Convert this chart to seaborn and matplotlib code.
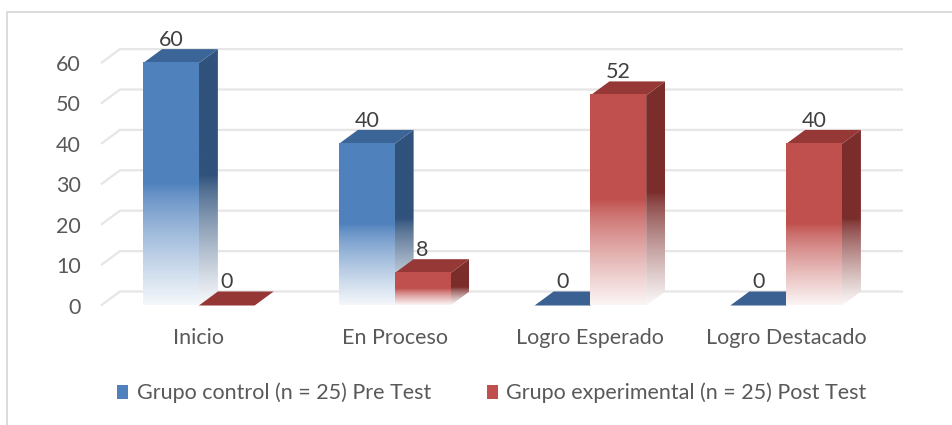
import numpy as np
import pandas as pd
import matplotlib
matplotlib.use("Agg")
import matplotlib.pyplot as plt
from matplotlib.patches import Polygon, Rectangle, Patch
from matplotlib.colors import to_rgb
import seaborn as sns

# ---------------- data ----------------
categories = ["Inicio", "En Proceso", "Logro Esperado", "Logro Destacado"]
series_names = ["Grupo control (n = 25) Pre Test", "Grupo experimental (n = 25) Post Test"]
control_values = [60, 40, 0, 0]
experimental_values = [0, 8, 52, 40]
y_ticks = [0, 10, 20, 30, 40, 50, 60]

df = pd.DataFrame({
    "cat": categories * 2,
    "val": control_values + experimental_values,
    "grp": [series_names[0]] * 4 + [series_names[1]] * 4,
})

# ---------------- style ----------------
sns.set_theme(style="white")
plt.rcParams["font.family"] = ["Lato", "DejaVu Sans"]
FS = 15.5
TXT = "#595959"

front_cols = ["#4F81BD", "#C0504D"]
side_cols = ["#30527C", "#7B2D2B"]
top_cols = ["#3C6597", "#953836"]
flat_cols = ["#3A6191", "#953735"]

W, H, DPI = 952, 425, 100
fig = plt.figure(figsize=(W / DPI, H / DPI), dpi=DPI)
fig.patch.set_facecolor("white")

ax_left, ax_right, ax_bottom_px = 101, 884, 305.5
px_per_unit = 4.04
ymax = 65
ax = fig.add_axes([ax_left / W, (H - ax_bottom_px) / H, (ax_right - ax_left) / W,
                   ymax * px_per_unit / H])

sns.barplot(data=df, x="cat", y="val", hue="grp", order=categories,
            hue_order=series_names, palette=front_cols, width=0.57,
            dodge=True, ax=ax, legend=False, saturation=1)

ax.set_xlim(-0.5, len(categories) - 0.5)
ax.set_ylim(0, ymax)
for s in ax.spines.values():
    s.set_visible(False)
ax.set_xlabel("")
ax.set_ylabel("")
ax.set_yticks(y_ticks)
ax.tick_params(axis="both", length=0, labelsize=FS, labelcolor=TXT)
ax.tick_params(axis="y", pad=14.5)
ax.tick_params(axis="x", pad=16)
ax.grid(False)
ax.set_facecolor("none")

fig.canvas.draw()
# depth offset in pixels -> data units
DX_PX, DY_PX = 19, 14
p0 = ax.transData.transform((0, 0))
p1 = ax.transData.transform((1, 1))
ddx = DX_PX / (p1[0] - p0[0])
ddy = DY_PX / (p1[1] - p0[1])

x0l, x1l = ax.get_xlim()
# back-wall gridlines with the diagonal floor connector
for v in y_ticks:
    ax.plot([x0l, x0l + ddx, x1l + ddx], [v, v + ddy, v + ddy],
            color="#e6e6e6", lw=1.6, zorder=0.5, clip_on=False,
            solid_capstyle="butt")


def grad_rgba(base, n=256, frac=0.5, light=0.94):
    base = np.array(to_rgb(base))
    t = np.linspace(0, 1, n)
    m = np.clip((frac - t) / frac, 0, 1) ** 0.8 * light
    rgb = base[None, :] * (1 - m[:, None]) + np.ones(3)[None, :] * m[:, None]
    rgba = np.concatenate([rgb, np.ones((n, 1))], axis=1)
    return rgba[:, None, :]


bars = list(ax.patches)
nb = len(categories)
records = []
for i, bar in enumerate(bars):
    hue_i = i // nb
    x0 = bar.get_x()
    w = bar.get_width()
    h = bar.get_height()
    records.append((x0, hue_i, w, h, bar))
    bar.set_facecolor("none")
    bar.set_edgecolor("none")
records.sort(key=lambda r: r[0])

z = 2
for x0, hue_i, w, h, bar in records:
    x1 = x0 + w
    if h <= 0:
        plate = Polygon([(x0, 0), (x1, 0), (x1 + ddx, ddy), (x0 + ddx, ddy)],
                        closed=True, facecolor=flat_cols[hue_i], edgecolor="none",
                        zorder=z, clip_on=False)
        ax.add_patch(plate)
    else:
        # side face with gradient
        side_poly = Polygon([(x1, 0), (x1 + ddx, ddy), (x1 + ddx, h + ddy), (x1, h)],
                            closed=True, facecolor="none", edgecolor="none",
                            zorder=z, clip_on=False)
        ax.add_patch(side_poly)
        frac_side = 0.5 * h / (h + ddy)
        im = ax.imshow(grad_rgba(side_cols[hue_i], frac=frac_side + 0.03, light=0.97),
                       extent=[x1, x1 + ddx, 0, h + ddy],
                       origin="lower", aspect="auto", zorder=z, interpolation="bilinear")
        im.set_clip_path(side_poly)
        # top face
        top = Polygon([(x0, h), (x1, h), (x1 + ddx, h + ddy), (x0 + ddx, h + ddy)],
                      closed=True, facecolor=top_cols[hue_i], edgecolor="none",
                      zorder=z, clip_on=False)
        ax.add_patch(top)
        # front face with gradient
        im2 = ax.imshow(grad_rgba(front_cols[hue_i]), extent=[x0, x1, 0, h],
                        origin="lower", aspect="auto", zorder=z + 0.1,
                        interpolation="bilinear")
        im2.set_clip_on(False)
    ax.annotate(f"{h:g}", xy=(x0 + w / 2, h), xytext=(0, (DY_PX + 3) * 0.72),
                textcoords="offset points", ha="center", va="baseline",
                fontsize=FS, color="#404040", zorder=10, annotation_clip=False)
    z += 1

ax.set_xlim(x0l, x1l)
ax.set_ylim(0, ymax)

# legend
handles = [Patch(facecolor=front_cols[0], edgecolor="none"),
           Patch(facecolor=front_cols[1], edgecolor="none")]
fig.legend(handles, series_names, loc="center", bbox_to_anchor=(492 / W, 1 - 393 / H),
           ncol=2, frameon=False, fontsize=FS, labelcolor=TXT, handlelength=0.5,
           handleheight=0.6, handletextpad=0.4, columnspacing=2.6)

# outer chart frame (cropped on the right and bottom)
fig.add_artist(Rectangle((7 / W, -0.1), 2, 1.1 - 12 / H, transform=fig.transFigure,
                         fill=False, edgecolor="#d9d9d9", lw=1.3))

fig.savefig("out.png", dpi=DPI)
